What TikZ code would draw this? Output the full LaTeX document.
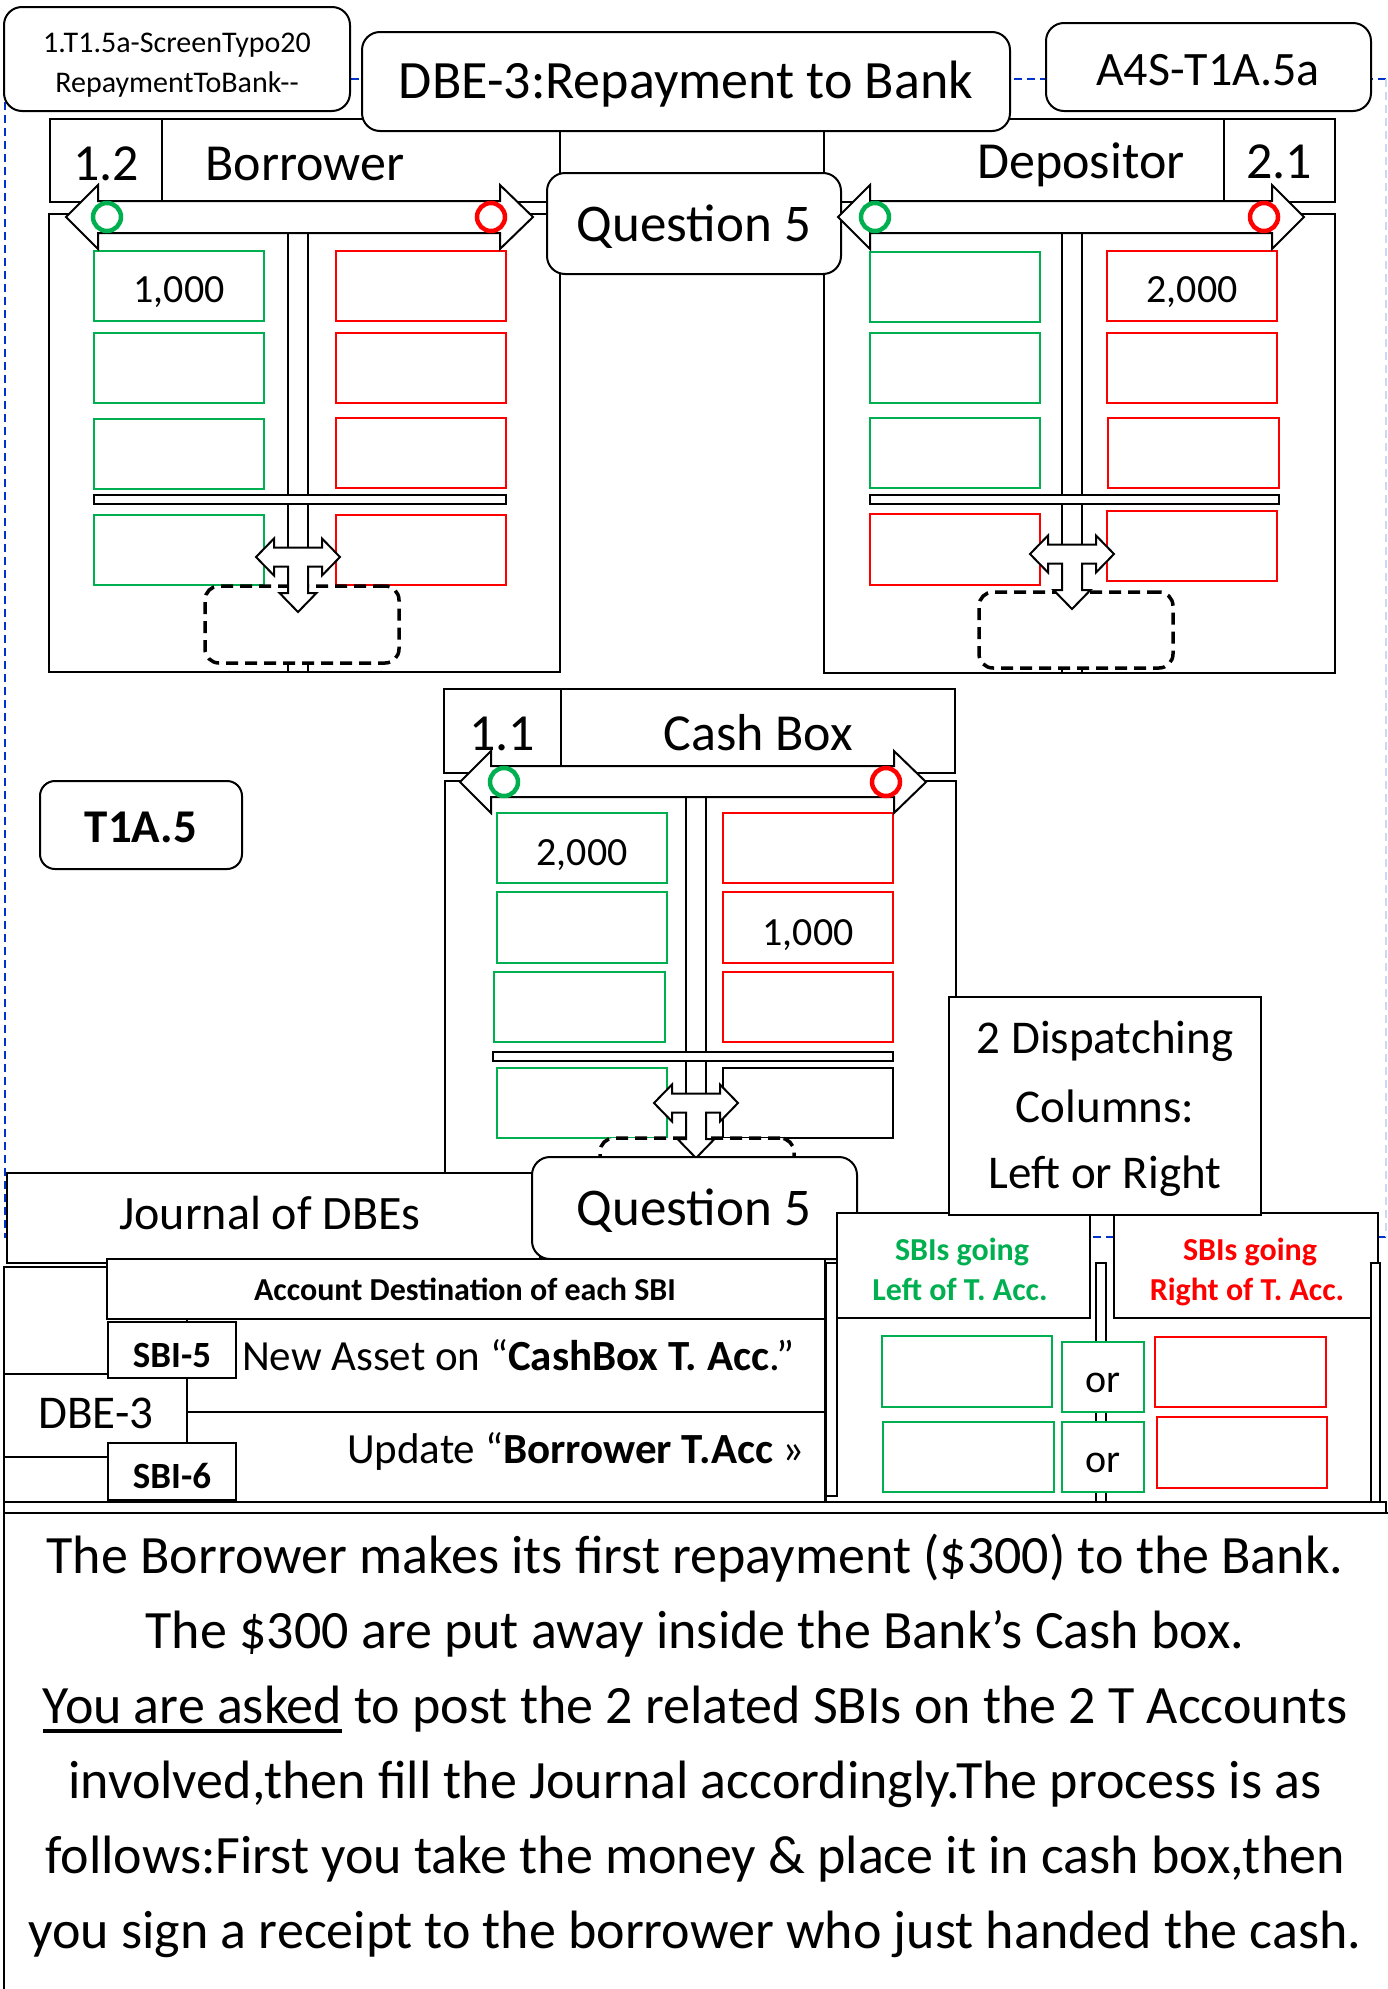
\documentclass[tikz,border=0pt]{standalone}
\usepackage{fontspec}
\setmainfont{Carlito}
\usetikzlibrary{calc}
\definecolor{accG}{RGB}{0,176,80}
\definecolor{accR}{RGB}{255,0,0}
\definecolor{frameblue}{RGB}{0,51,204}
\newcommand{\fsz}[1]{\fontsize{#1}{#1}\selectfont}
% box from corner (x1,y1) to corner (x2,y2), y grows downwards
\newcommand{\bx}[7][]{%
  \pgfmathsetmacro{\bxcx}{(#3+#5)/2}%
  \pgfmathsetmacro{\bxcy}{(#4+#6)/2}%
  \pgfmathsetmacro{\bxw}{#5-#3}%
  \pgfmathsetmacro{\bxh}{#6-#4}%
  \node[box,#1,minimum width=\bxw pt,minimum height=\bxh pt] (#2) at (\bxcx,\bxcy) {#7};}
% horizontal double-headed block arrow: left tip, left base, right base, right tip, centre y
\newcommand{\dblbar}[5]{%
  \draw[ln,fill=white] (#1,#5) -- (#2,#5-32) -- (#2,#5-16) -- (#3,#5-16) -- (#3,#5-32)
    -- (#4,#5) -- (#3,#5+32) -- (#3,#5+16) -- (#2,#5+16) -- (#2,#5+32) -- cycle;}
% left-right-down block arrow centred on the stem
\newcommand{\tarrow}[2]{%
  \draw[ln,fill=white,shift={(#1,#2)}] (-42,0) -- (-24,-18.5) -- (-24,-9.5) -- (24,-9.5)
    -- (24,-18.5) -- (42,0) -- (24,18.5) -- (24,9.5) -- (10,9.5) -- (10,36) -- (18.5,36)
    -- (0,55) -- (-18.5,36) -- (-10,36) -- (-10,9.5) -- (-24,9.5) -- (-24,18.5) -- cycle;}
\newcommand{\ulin}[1]{\setbox0\hbox{#1}\rlap{\rule[-10pt]{\wd0}{4pt}}\box0\relax}
\tikzset{
  ln/.style={line width=2pt},
  box/.style={draw, line width=2pt, fill=white, inner sep=0pt, outer sep=0pt},
  rbox/.style={rounded corners=18pt},
  grn/.style={draw=accG},
  redb/.style={draw=accR},
  dashbox/.style={line width=3.5pt, dash pattern=on 12pt off 7pt, rounded corners=14pt},
  blueframe/.style={draw=frameblue, line width=2pt, dash pattern=on 8pt off 5pt},
  lbl/.style={anchor=base, inner sep=0pt, outer sep=0pt},
  gring/.style={draw=accG, line width=4.5pt},
  rring/.style={draw=accR, line width=4.5pt},
}
\begin{document}
\begin{tikzpicture}[x=1pt,y=-1pt]
\useasboundingbox (0,0) rectangle (1388,1989);
\fill[white] (0,0) rectangle (1388,1989);

% dashed page frame
\draw[blueframe] (1386,79) -- (5,79) -- (5,1237) -- (1386,1237);
\draw[blueframe, draw=frameblue!20] (1386,79) -- (1386,1237);

% ---------------- Borrower T account (1.2)
\bx{bHead}{50}{119}{560}{202}{}
\draw[ln] (162,119) -- (162,202);
\bx{bBody}{49}{214}{560}{672}{}
\bx{bStem}{288}{233}{308}{672}{}
\bx[grn]{bL1}{94}{251}{264}{321}{}
\bx[grn]{bL2}{94}{333}{264}{403}{}
\bx[grn]{bL3}{94}{419}{264}{489}{}
\bx[grn]{bL4}{94}{515}{264}{585}{}
\bx[redb]{bR1}{336}{251}{506}{321}{}
\bx[redb]{bR2}{336}{333}{506}{403}{}
\bx[redb]{bR3}{336}{418}{506}{488}{}
\bx[redb]{bR4}{336}{515}{506}{585}{}
\bx{bSep}{94}{495}{506}{504}{}
\bx[dashbox]{bRes}{205}{586}{399}{663}{}
\tarrow{298}{557}
\node[lbl,font=\fsz{52}] (bNum) at (106,180) {1.2};
\node[lbl,font=\fsz{52}] (bName) at (305,180) {Borrower};
\node[lbl,font=\fsz{40}] (bVal) at (179,302) {1,000};

% ---------------- Depositor T account (2.1)
\bx{dHead}{824}{119}{1335}{202}{}
\draw[ln] (1224,119) -- (1224,202);
\bx{dBody}{824}{214}{1335}{673}{}
\bx{dStem}{1062}{233}{1082}{673}{}
\bx[grn]{dL1}{870}{252}{1040}{322}{}
\bx[grn]{dL2}{870}{333}{1040}{403}{}
\bx[grn]{dL3}{870}{418}{1040}{488}{}
\bx[redb]{dL4}{870}{514}{1040}{585}{}
\bx[redb]{dR1}{1107}{251}{1277}{321}{}
\bx[redb]{dR2}{1107}{333}{1277}{403}{}
\bx[redb]{dR3}{1108}{418}{1279}{488}{}
\bx[redb]{dR4}{1107}{511}{1277}{581}{}
\bx{dSep}{870}{495}{1279}{504}{}
\bx[dashbox]{dRes}{979}{592}{1173}{668}{}
\tarrow{1072}{554}
\node[lbl,font=\fsz{52}] (dName) at (1081,178) {Depositor};
\node[lbl,font=\fsz{52}] (dNum) at (1279,178) {2.1};
\node[lbl,font=\fsz{40}] (dVal) at (1192,302) {2,000};

% ---------------- Cash Box T account (1.1)
\bx{cHead}{444}{689}{955}{773}{}
\draw[ln] (561,689) -- (561,773);
\bx{cBody}{445}{781}{956}{1250}{}
\bx{cStem}{686}{797}{706}{1250}{}
\bx[grn]{cL1}{497}{813}{667}{883}{}
\bx[grn]{cL2}{497}{892}{667}{963}{}
\bx[grn]{cL3}{494}{972}{665}{1042}{}
\bx[grn]{cL4}{497}{1068}{667}{1138}{}
\bx[redb]{cR1}{723}{813}{893}{883}{}
\bx[redb]{cR2}{723}{892}{893}{963}{}
\bx[redb]{cR3}{723}{972}{893}{1042}{}
\bx{cR4}{723}{1068}{893}{1138}{}
\bx{cSep}{493}{1052}{893}{1061}{}
\bx[dashbox]{cRes}{600}{1138}{794}{1230}{}
\tarrow{696}{1103}
\node[lbl,font=\fsz{52}] (cNum) at (502,750) {1.1};
\node[lbl,font=\fsz{52}] (cName) at (758,750) {Cash Box};
\node[lbl,font=\fsz{40}] (cVal) at (582,865) {2,000};
\node[lbl,font=\fsz{40}] (cVal2) at (808,945) {1,000};

% ---------------- heading boxes
\bx[rbox]{hdrRef}{4}{7}{350}{111}{}
\node[lbl,font=\fsz{30}] (hdrRefA) at (177,52) {1.T1.5a-ScreenTypo20};
\node[lbl,font=\fsz{30}] (hdrRefB) at (177,92) {RepaymentToBank-{}-};
\bx[rbox]{hdrTitle}{362}{32}{1010}{131}{}
\node[lbl,font=\fsz{54}] (hdrTitleT) at (686,98) {DBE-3:Repayment to Bank};
\bx[rbox]{hdrCode}{1046}{23}{1371}{111}{}
\node[lbl,font=\fsz{48}] (hdrCodeT) at (1208,85) {A4S-T1A.5a};
\bx[rbox]{qTop}{547}{173}{841}{274}{}
\node[lbl,font=\fsz{53}] (qTopT) at (694,241) {Question 5};
\bx[rbox,rounded corners=15pt]{tag}{40}{781}{242}{869}{}
\node[lbl,font=\fsz{47}\bfseries] (tagT) at (141,842) {T1A.5};

% block arrows with the side markers
\dblbar{66}{98}{500}{533}{217}
\draw[gring] (107,217) circle[radius=14pt];
\draw[rring] (491,217) circle[radius=14pt];
\dblbar{838}{870}{1272}{1304}{217}
\draw[gring] (875,217) circle[radius=14pt];
\draw[rring] (1264,217) circle[radius=14pt];
\draw[ln,fill=white] (460,782) -- (491,751) -- (491,766) -- (894,766) -- (894,751) -- (926,782)
  -- (894,813) -- (894,797) -- (491,797) -- (491,813) -- cycle;
\draw[gring] (504,782) circle[radius=14pt];
\draw[rring] (886,782) circle[radius=14pt];

% ---------------- journal
\bx{jOuter}{4}{1267}{826}{1502}{}
\bx{jTitle}{7}{1173}{540}{1263}{}
\node[lbl,font=\fsz{48}] (jTitleT) at (270,1229) {Journal of DBEs};
\bx[rbox]{qBot}{532}{1157}{857}{1259}{}
\node[lbl,font=\fsz{53}] (qBotT) at (694,1225) {Question 5};
\bx{jHead}{107}{1259}{825}{1319}{}
\node[lbl,font=\fsz{32}\bfseries] (jHeadT) at (465,1300) {Account Destination of each SBI};
\bx{jRow1}{187}{1319}{825}{1412}{}
\bx{jRow2}{187}{1412}{825}{1502}{}
\bx{jDbe}{4}{1374}{187}{1457}{}
\node[lbl,font=\fsz{47}] (jDbeT) at (96,1428) {DBE-3};
\bx{jSbi5}{108}{1322}{236}{1378}{}
\node[lbl,font=\fsz{37}\bfseries] (jSbi5T) at (172,1367) {SBI-5};
\bx{jSbi6}{108}{1443}{236}{1500}{}
\node[lbl,font=\fsz{37}\bfseries] (jSbi6T) at (172,1488) {SBI-6};
\node[lbl,anchor=base west,font=\fsz{43}] (jRow1T) at (242,1370)
  {New Asset on “\textbf{CashBox T. Acc}.”};
\node[lbl,anchor=base east,font=\fsz{43}] (jRow2T) at (805,1463)
  {Update “\textbf{Borrower T.Acc} »};

% ---------------- dispatching columns
\bx{sLeft}{837}{1213}{1090}{1318}{}
\node[lbl,font=\fsz{32}\bfseries,text=accG] (sLeftA) at (962,1260) {SBIs going};
\node[lbl,font=\fsz{32}\bfseries,text=accG] (sLeftB) at (960,1300) {Left of T. Acc.};
\bx{sRight}{1114}{1213}{1378}{1318}{}
\node[lbl,font=\fsz{32}\bfseries,text=accR] (sRightA) at (1250,1260) {SBIs going};
\node[lbl,font=\fsz{32}\bfseries,text=accR] (sRightB) at (1247,1300) {Right of T. Acc.};
\bx{disp}{949}{997}{1261}{1215}{}
\node[lbl,font=\fsz{47}] (dispA) at (1105,1053) {2 Dispatching};
\node[lbl,font=\fsz{47}] (dispB) at (1105,1122) {Columns:};
\node[lbl,font=\fsz{47}] (dispC) at (1105,1188) {Left or Right};
\bx{vbarA}{826}{1263}{837}{1496}{}
\bx{vbarB}{1096}{1263}{1106}{1503}{}
\bx{vbarC}{1371}{1263}{1380}{1502}{}
\bx[grn]{sG1}{882}{1336}{1052}{1407}{}
\bx[grn]{sG2}{883}{1422}{1054}{1492}{}
\bx[grn]{sO1}{1062}{1342}{1144}{1412}{}
\bx[grn]{sO2}{1062}{1422}{1144}{1492}{}
\node[lbl,font=\fsz{40}] (sO1T) at (1103,1392) {or};
\node[lbl,font=\fsz{40}] (sO2T) at (1103,1472) {or};
\bx[redb]{sR1}{1155}{1337}{1326}{1407}{}
\bx[redb]{sR2}{1157}{1417}{1327}{1488}{}

% ---------------- statement
\bx{hbar}{4}{1502}{1386}{1513}{}
\bx{story}{4}{1513}{1400}{2000}{}
\node[lbl,font=\fsz{54}] (stA) at (695,1573) {The Borrower makes its first repayment (\$300) to the Bank.};
\node[lbl,font=\fsz{54}] (stB) at (695,1648) {The \$300 are put away inside the Bank’s Cash box.};
\node[lbl,font=\fsz{54}] (stC) at (695,1723) {\ulin{You are asked} to post the 2 related SBIs on the 2 T Accounts};
\node[lbl,font=\fsz{54}] (stD) at (695,1798) {involved,then fill the Journal accordingly.The process is as};
\node[lbl,font=\fsz{54}] (stE) at (695,1873) {follows:First you take the money \& place it in cash box,then};
\node[lbl,font=\fsz{54}] (stF) at (695,1948) {you sign a receipt to the borrower who just handed the cash.};
\end{tikzpicture}
\end{document}
